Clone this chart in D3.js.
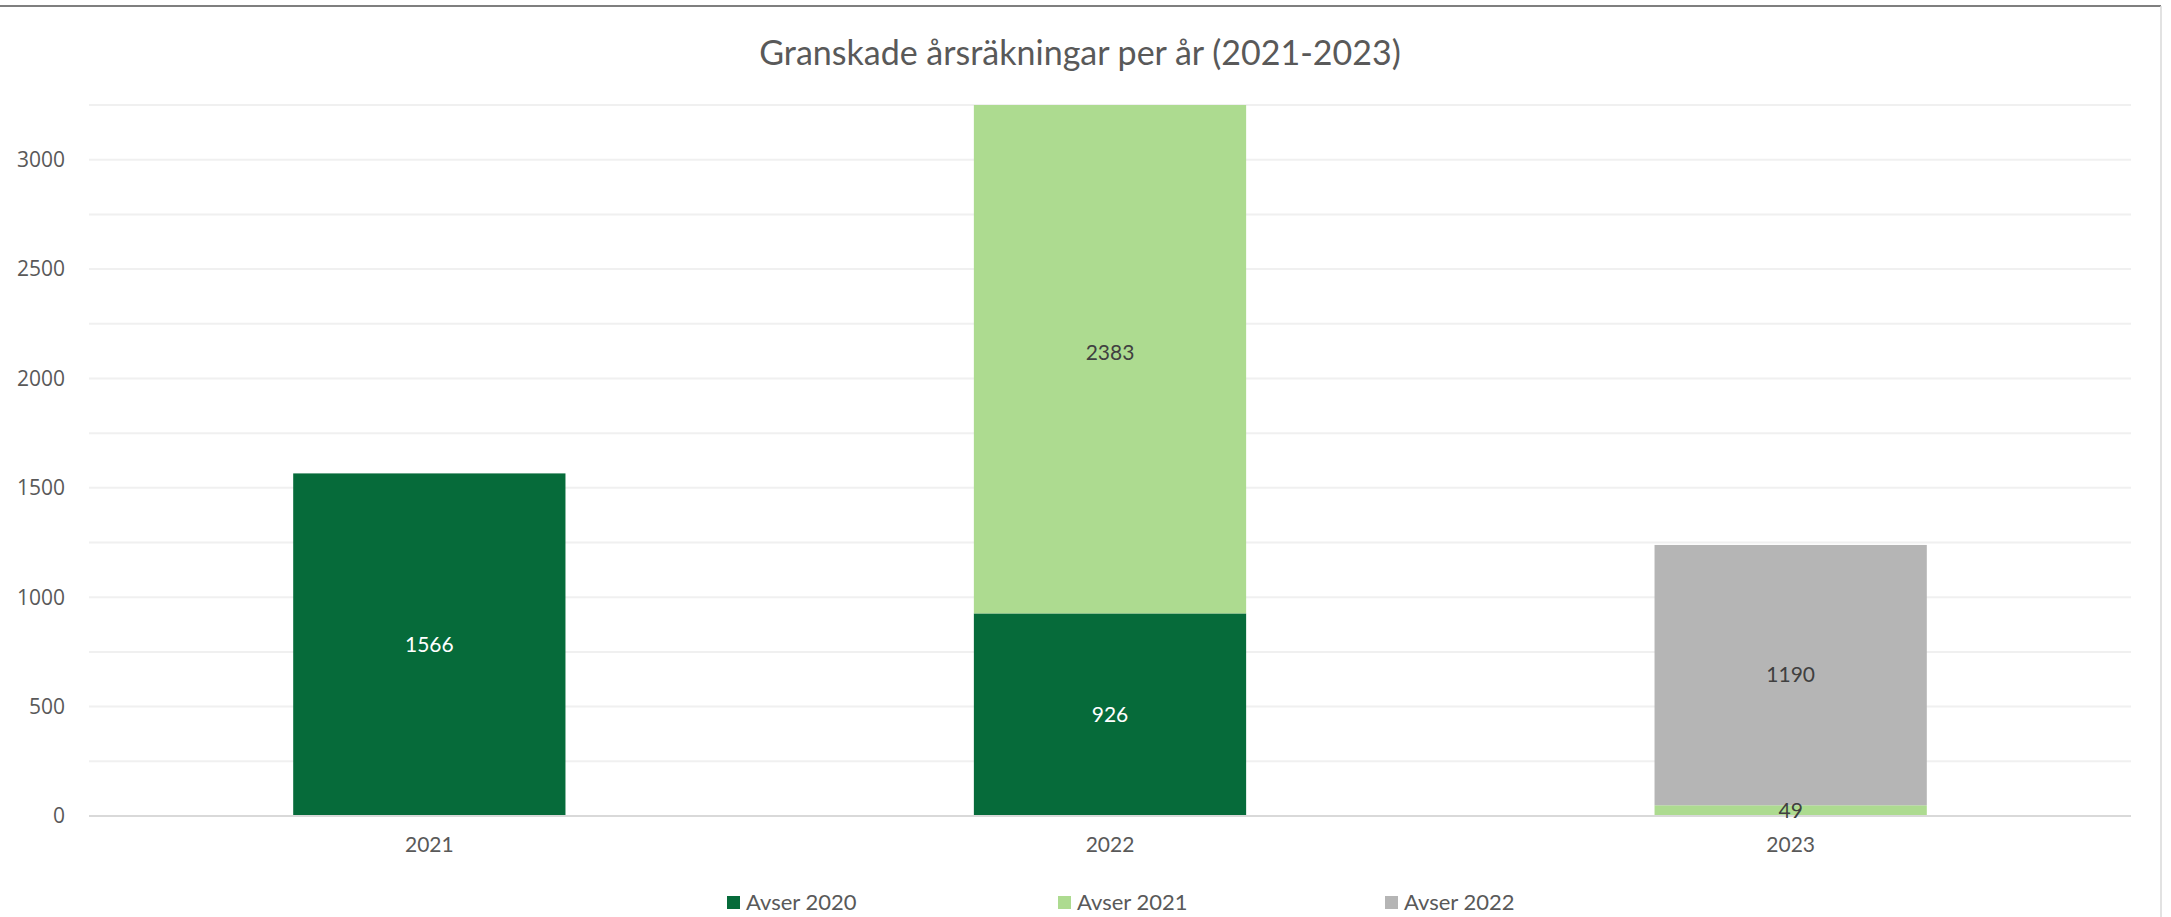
<!DOCTYPE html>
<html>
<head>
<meta charset="utf-8">
<script src="https://cdn.jsdelivr.net/npm/d3@7/dist/d3.min.js"></script>
<style>
  body { margin: 0; background: #fff; }
  text { font-family: Lato, "Open Sans", sans-serif; }
</style>
</head>
<body>
<div id="chart"></div>
<script>
const years = ["2021", "2022", "2023"];
const seriesNames = ["Avser 2020", "Avser 2021", "Avser 2022"];
const avser2020 = [1566, 926, 0];
const avser2021 = [0, 2383, 49];
const avser2022 = [0, 0, 1190];
const yTicks = [0, 500, 1000, 1500, 2000, 2500, 3000];
const yMax = 3250;
const colors = ["#066B3A", "#ADDB90", "#B5B5B5"];
const labelColors = ["#ffffff", "#404040", "#404040"];

const width = 2171;
const height = 917;
const margin = { top: 105, right: 40, bottom: 101, left: 89 };

const svg = d3.select("#chart")
  .append("svg")
  .attr("width", width)
  .attr("height", height);

// frame of the chart area
svg.append("line")
  .attr("x1", 0).attr("x2", 2161).attr("y1", 6).attr("y2", 6)
  .attr("stroke", "#7f7f7f").attr("stroke-width", 2);
svg.append("line")
  .attr("x1", 2161).attr("x2", 2161).attr("y1", 6).attr("y2", height)
  .attr("stroke", "#d9d9d9").attr("stroke-width", 1.5);

const rows = years.map((y, i) => ({
  year: y,
  "Avser 2020": avser2020[i],
  "Avser 2021": avser2021[i],
  "Avser 2022": avser2022[i]
}));

const x = d3.scaleBand()
  .domain(years)
  .range([margin.left, width - margin.right])
  .paddingInner(0.6)
  .paddingOuter(0.3);

const y = d3.scaleLinear()
  .domain([0, yMax])
  .range([height - margin.bottom, margin.top]);

// gridlines every 250
const grid = d3.range(250, yMax + 1, 250);
svg.append("g")
  .selectAll("line")
  .data(grid)
  .join("line")
  .attr("x1", margin.left)
  .attr("x2", width - margin.right)
  .attr("y1", d => y(d))
  .attr("y2", d => y(d))
  .attr("stroke", "#f0f0f0")
  .attr("stroke-width", 2);

// y tick labels
svg.append("g")
  .selectAll("text")
  .data(yTicks)
  .join("text")
  .attr("x", 65)
  .attr("y", d => y(d))
  .attr("dy", "0.35em")
  .attr("text-anchor", "end")
  .style("font-family", "'Open Sans', sans-serif")
  .attr("font-size", "21px")
  .attr("fill", "#595959")
  .text(d => d);

svg.append("clipPath")
  .attr("id", "plot-clip")
  .append("rect")
  .attr("x", margin.left)
  .attr("y", y(yMax))
  .attr("width", width - margin.left - margin.right)
  .attr("height", y(0) - y(yMax));

const stack = d3.stack().keys(seriesNames);
const stacked = stack(rows);

const layers = svg.append("g")
  .attr("clip-path", "url(#plot-clip)")
  .selectAll("g")
  .data(stacked)
  .join("g")
  .attr("fill", (d, i) => colors[i]);

layers.selectAll("rect")
  .data(d => d)
  .join("rect")
  .attr("x", d => x(d.data.year))
  .attr("width", x.bandwidth())
  .attr("y", d => y(d[1]))
  .attr("height", d => y(d[0]) - y(d[1]));

// baseline
svg.append("line")
  .attr("x1", margin.left)
  .attr("x2", width - margin.right)
  .attr("y1", y(0))
  .attr("y2", y(0))
  .attr("stroke", "#d9d9d9")
  .attr("stroke-width", 2);

// data labels in the middle of each segment
stacked.forEach((layer, i) => {
  svg.append("g")
    .selectAll("text")
    .data(layer.filter(d => d[1] - d[0] > 0))
    .join("text")
    .attr("x", d => x(d.data.year) + x.bandwidth() / 2)
    .attr("y", d => y((d[0] + d[1]) / 2))
    .attr("dy", "0.35em")
    .attr("text-anchor", "middle")
    .attr("font-size", "21px")
    .attr("fill", labelColors[i])
    .text(d => d[1] - d[0]);
});

// category labels
svg.append("g")
  .selectAll("text")
  .data(years)
  .join("text")
  .attr("x", d => x(d) + x.bandwidth() / 2)
  .attr("y", 845)
  .attr("dy", "0.35em")
  .attr("text-anchor", "middle")
  .attr("font-size", "21px")
  .attr("fill", "#595959")
  .text(d => d);

// title
svg.append("text")
  .attr("x", 1080)
  .attr("y", 53)
  .attr("dy", "0.35em")
  .attr("text-anchor", "middle")
  .attr("font-size", "34px")
  .attr("fill", "#595959")
  .text("Granskade årsräkningar per år (2021-2023)");

// legend
const legendX = [727, 1058, 1385];
const legend = svg.append("g")
  .selectAll("g")
  .data(seriesNames)
  .join("g")
  .attr("transform", (d, i) => `translate(${legendX[i]},902)`);

legend.append("rect")
  .attr("x", 0)
  .attr("y", -6)
  .attr("width", 13)
  .attr("height", 13)
  .attr("fill", (d, i) => colors[i]);

legend.append("text")
  .attr("x", 19)
  .attr("y", 0)
  .attr("dy", "0.35em")
  .attr("font-size", "22px")
  .attr("fill", "#595959")
  .text(d => d);
</script>
</body>
</html>
